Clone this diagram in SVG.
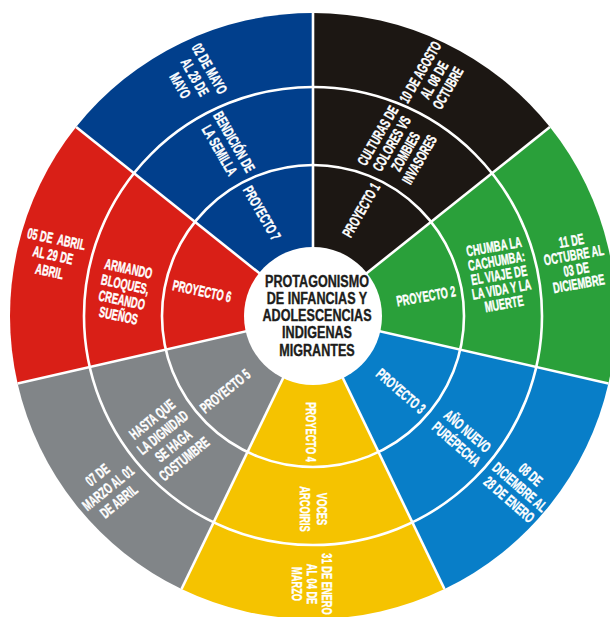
<svg xmlns="http://www.w3.org/2000/svg" width="610" height="617" viewBox="0 0 610 617">
  <style>
    .lbl { font-family: "Liberation Sans", Arial, sans-serif; font-weight: bold; font-size: 15px; fill: #ffffff; stroke: #ffffff; stroke-width: 0.4; stroke-linejoin: round; text-anchor: middle; white-space: pre; }
    .hub { font-family: "Liberation Sans", Arial, sans-serif; font-weight: bold; font-size: 16.8px; fill: #1d1d1b; stroke: #1d1d1b; stroke-width: 0.4; stroke-linejoin: round; text-anchor: middle; }
    .div { stroke: #ffffff; stroke-width: 2.6; fill: none; }
  </style>

  <!-- wheel centre (313,316), outer radius 303 -->
  <g id="sector-proyecto-1">
    <path d="M313 316 L313 13 A303 303 0 0 1 549.89 127.08 Z" fill="#1c1713"/>
    <g transform="translate(361 210) rotate(-60) scale(0.62 1)">
      <text class="lbl" x="0" y="5.35">PROYECTO 1</text>
    </g>
    <g transform="translate(398.5 147.5) rotate(-60) scale(0.62 1)">
      <text class="lbl" x="0" y="-18.65">CULTURAS DE</text>
      <text class="lbl" x="0" y="-2.65">COLORES VS</text>
      <text class="lbl" x="0" y="13.35">ZOMBIES</text>
      <text class="lbl" x="0" y="29.35">INVASORES</text>
    </g>
    <g transform="translate(434 80) rotate(-60) scale(0.62 1)">
      <text class="lbl" x="0" y="-10.65">10 DE AGOSTO</text>
      <text class="lbl" x="0" y="5.35">AL 08 DE</text>
      <text class="lbl" x="0" y="21.35">OCTUBRE</text>
    </g>
  </g>

  <g id="sector-proyecto-2">
    <path d="M313 316 L549.89 127.08 A303 303 0 0 1 608.40 383.42 Z" fill="#2aa03a"/>
    <g transform="translate(426 296) rotate(-10) scale(0.62 1)">
      <text class="lbl" x="0" y="5.35">PROYECTO 2</text>
    </g>
    <g transform="translate(499 275) rotate(-10) scale(0.62 1)">
      <text class="lbl" x="0" y="-23.65">CHUMBA LA</text>
      <text class="lbl" x="0" y="-9.15">CACHUMBA:</text>
      <text class="lbl" x="0" y="5.35">EL VIAJE DE</text>
      <text class="lbl" x="0" y="19.85">LA VIDA Y LA</text>
      <text class="lbl" x="0" y="34.35">MUERTE</text>
    </g>
    <g transform="translate(575 262) rotate(-10) scale(0.62 1)">
      <text class="lbl" x="0" y="-16.4">11 DE</text>
      <text class="lbl" x="0" y="-1.9">OCTUBRE AL</text>
      <text class="lbl" x="0" y="12.6">03 DE</text>
      <text class="lbl" x="0" y="27.1">DICIEMBRE</text>
    </g>
  </g>

  <g id="sector-proyecto-3">
    <path d="M313 316 L608.40 383.42 A303 303 0 0 1 444.47 589.00 Z" fill="#087ec8"/>
    <g transform="translate(401 391) rotate(41) scale(0.62 1)">
      <text class="lbl" x="0" y="5.35">PROYECTO 3</text>
    </g>
    <g transform="translate(462 437.5) rotate(41) scale(0.62 1)">
      <text class="lbl" x="0" y="-3.15">AÑO NUEVO</text>
      <text class="lbl" x="0" y="13.85">PURÉPECHA</text>
    </g>
    <g transform="translate(520 487) rotate(41) scale(0.62 1)">
      <text class="lbl" x="0" y="-11.15">08 DE</text>
      <text class="lbl" x="0" y="5.35">DICIEMBRE AL</text>
      <text class="lbl" x="0" y="21.85">28 DE ENERO</text>
    </g>
  </g>

  <g id="sector-proyecto-4">
    <path d="M313 316 L444.47 589.00 A303 303 0 0 1 181.53 589.00 Z" fill="#f5c300"/>
    <g transform="translate(311.5 432) rotate(90) scale(0.62 1)">
      <text class="lbl" x="0" y="5.35">PROYECTO 4</text>
    </g>
    <g transform="translate(314 509) rotate(90) scale(0.62 1)">
      <text class="lbl" x="0" y="-3.15">VOCES</text>
      <text class="lbl" x="0" y="13.85">ARCOIRIS</text>
    </g>
    <g transform="translate(312 584) rotate(90) scale(0.62 1)">
      <text class="lbl" x="0" y="-9.65">31 DE ENERO</text>
      <text class="lbl" x="0" y="5.35">AL 04 DE</text>
      <text class="lbl" x="0" y="20.35">MARZO</text>
    </g>
  </g>

  <g id="sector-proyecto-5">
    <path d="M313 316 L181.53 589.00 A303 303 0 0 1 17.60 383.42 Z" fill="#818588"/>
    <g transform="translate(225 391) rotate(-39) scale(0.62 1)">
      <text class="lbl" x="0" y="5.35">PROYECTO 5</text>
    </g>
    <g transform="translate(168 439) rotate(-39) scale(0.62 1)">
      <text class="lbl" x="0" y="-20.15">HASTA QUE</text>
      <text class="lbl" x="0" y="-3.15">LA DIGNIDAD</text>
      <text class="lbl" x="0" y="13.85">SE HAGA</text>
      <text class="lbl" x="0" y="30.85">COSTUMBRE</text>
    </g>
    <g transform="translate(108 488) rotate(-39) scale(0.62 1)">
      <text class="lbl" x="0" y="-11.65">07 DE</text>
      <text class="lbl" x="0" y="5.35">MARZO AL 01</text>
      <text class="lbl" x="0" y="22.35">DE ABRIL</text>
    </g>
  </g>

  <g id="sector-proyecto-6">
    <path d="M313 316 L17.60 383.42 A303 303 0 0 1 76.11 127.08 Z" fill="#d91f17"/>
    <g transform="translate(202 291) rotate(12) scale(0.62 1)">
      <text class="lbl" x="0" y="5.35">PROYECTO 6</text>
    </g>
    <g transform="translate(123.5 292) rotate(12) scale(0.62 1)">
      <text class="lbl" x="0" y="-18.65">ARMANDO</text>
      <text class="lbl" x="0" y="-2.65">BLOQUES,</text>
      <text class="lbl" x="0" y="13.35">CREANDO</text>
      <text class="lbl" x="0" y="29.35">SUEÑOS</text>
    </g>
    <g transform="translate(53 255) rotate(12) scale(0.62 1)">
      <text class="lbl" x="0" y="-11.15">05 DE  ABRIL</text>
      <text class="lbl" x="0" y="5.35">AL 29 DE</text>
      <text class="lbl" x="0" y="21.85">ABRIL</text>
    </g>
  </g>

  <g id="sector-proyecto-7">
    <path d="M313 316 L76.11 127.08 A303 303 0 0 1 313 13 Z" fill="#013f8c"/>
    <g transform="translate(262 213) rotate(60) scale(0.62 1)">
      <text class="lbl" x="0" y="5.35">PROYECTO 7</text>
    </g>
    <g transform="translate(227 146) rotate(60) scale(0.62 1)">
      <text class="lbl" x="0" y="-3.15">BENDICIÓN DE</text>
      <text class="lbl" x="0" y="13.85">LA SEMILLA</text>
    </g>
    <g transform="translate(195 77) rotate(60) scale(0.62 1)">
      <text class="lbl" x="0" y="-11.65">02 DE MAYO</text>
      <text class="lbl" x="0" y="5.35">AL 28 DE</text>
      <text class="lbl" x="0" y="22.35">MAYO</text>
    </g>
  </g>

  <!-- white ring and spoke dividers -->
  <g id="dividers">
    <circle class="div" cx="313" cy="316" r="151"/>
    <circle class="div" cx="313" cy="316" r="229"/>
    <line class="div" x1="313" y1="316" x2="313" y2="13"/>
    <line class="div" x1="313" y1="316" x2="549.89" y2="127.08"/>
    <line class="div" x1="313" y1="316" x2="608.40" y2="383.42"/>
    <line class="div" x1="313" y1="316" x2="444.47" y2="589.00"/>
    <line class="div" x1="313" y1="316" x2="181.53" y2="589.00"/>
    <line class="div" x1="313" y1="316" x2="17.60" y2="383.42"/>
    <line class="div" x1="313" y1="316" x2="76.11" y2="127.08"/>
  </g>

  <g id="hub">
    <circle cx="313" cy="316" r="69" fill="#ffffff"/>
    <g transform="translate(317 0) scale(0.75 1)">
      <text class="hub" x="0" y="287">PROTAGONISMO</text>
      <text class="hub" x="0" y="304.5">DE INFANCIAS Y</text>
      <text class="hub" x="0" y="321.5">ADOLESCENCIAS</text>
      <text class="hub" x="0" y="338.5">INDIGENAS</text>
      <text class="hub" x="0" y="356">MIGRANTES</text>
    </g>
  </g>
</svg>
